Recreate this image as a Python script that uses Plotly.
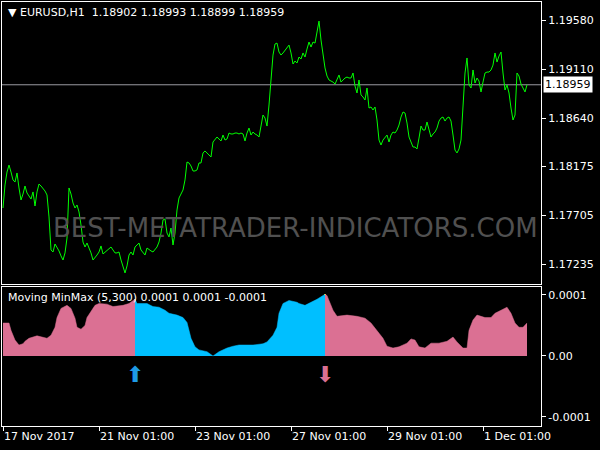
import plotly.graph_objects as go

# ---------------- data ----------------
closes = [
    1.17777, 1.17998, 1.18122, 1.18189, 1.18122, 1.18046, 1.18026, 1.18113, 1.17969, 1.17854,
    1.17911, 1.17988, 1.17921, 1.17892, 1.17863, 1.17931, 1.17796, 1.17931, 1.18007, 1.17988,
    1.17969, 1.17940, 1.17902, 1.17691, 1.17374, 1.17355, 1.17432, 1.17403, 1.17365, 1.17317,
    1.17278, 1.17346, 1.17489, 1.17969, 1.17911, 1.17825, 1.17777, 1.17806, 1.17739, 1.17614,
    1.17450, 1.17403, 1.17441, 1.17393, 1.17346, 1.17278, 1.17298, 1.17326, 1.17355, 1.17413,
    1.17336, 1.17355, 1.17374, 1.17384, 1.17403, 1.17374, 1.17346, 1.17346, 1.17355, 1.17278,
    1.17211, 1.17154, 1.17221, 1.17326, 1.17355, 1.17326, 1.17403, 1.17422, 1.17441, 1.17374,
    1.17355, 1.17326, 1.17393, 1.17374, 1.17365, 1.17355, 1.17384, 1.17403, 1.17451, 1.17537,
    1.17662, 1.17672, 1.17537, 1.17499, 1.17585, 1.17422, 1.17537, 1.17758, 1.17873, 1.17911,
    1.17950, 1.18046, 1.18218, 1.18209, 1.18180, 1.18132, 1.18132, 1.18142, 1.18209, 1.18209,
    1.18305, 1.18324, 1.18305, 1.18276, 1.18266, 1.18410, 1.18439, 1.18458, 1.18439, 1.18420,
    1.18477, 1.18429, 1.18439, 1.18496, 1.18487, 1.18487, 1.18496, 1.18496, 1.18487, 1.18496,
    1.18487, 1.18420, 1.18496, 1.18544, 1.18477, 1.18506, 1.18487, 1.18477, 1.18458, 1.18554,
    1.18669, 1.18640, 1.18563, 1.18765, 1.19005, 1.19244, 1.19350, 1.19359, 1.19273, 1.19244,
    1.19264, 1.19292, 1.19311, 1.19340, 1.19264, 1.19158, 1.19187, 1.19168, 1.19225, 1.19206,
    1.19264, 1.19225, 1.19302, 1.19369, 1.19321, 1.19369, 1.19359, 1.19484, 1.19570, 1.19388,
    1.19225, 1.19120, 1.19043, 1.19005, 1.18995, 1.18985, 1.18966, 1.19005, 1.19053, 1.18985,
    1.19005, 1.19024, 1.19033, 1.19024, 1.19024, 1.19072, 1.18947, 1.18880, 1.19005, 1.18861,
    1.18842, 1.18813, 1.18928, 1.18736, 1.18746, 1.18717, 1.18746, 1.18621, 1.18429, 1.18381,
    1.18429, 1.18448, 1.18477, 1.18410, 1.18477, 1.18506, 1.18496, 1.18525, 1.18573, 1.18650,
    1.18698, 1.18688, 1.18592, 1.18458, 1.18400, 1.18362, 1.18362, 1.18343, 1.18448, 1.18563,
    1.18525, 1.18525, 1.18602, 1.18535, 1.18458, 1.18487, 1.18506, 1.18544, 1.18611, 1.18640,
    1.18650, 1.18611, 1.18640, 1.18650, 1.18611, 1.18477, 1.18333, 1.18305, 1.18343, 1.18429,
    1.18717, 1.19072, 1.19216, 1.18957, 1.18928, 1.19101, 1.18976, 1.19024, 1.18995, 1.18890,
    1.18985, 1.19072, 1.19081, 1.19081, 1.19101, 1.19148, 1.19264, 1.19177, 1.19235, 1.19273,
    1.19072, 1.18909, 1.18957, 1.18880, 1.18736, 1.18621, 1.18669, 1.19072, 1.19043, 1.18966,
    1.18928, 1.18890, 1.18959,
]
bars = list(range(len(closes)))

# Moving MinMax histogram segments (bar index, value)
down1_idx = [0, 3, 4, 6, 8, 10, 11, 13, 17, 20, 22, 24, 26, 27, 29, 32, 34, 36, 37, 39,
             41, 42, 44, 46, 48, 52, 55, 60, 63, 65, 66]
down1_val = [0.000054, 0.000054, 0.000042, 0.000026, 0.000018, 0.000020, 0.000024, 0.000029,
             0.000033, 0.000031, 0.000029, 0.000034, 0.000047, 0.000063, 0.000078, 0.000083,
             0.000078, 0.000062, 0.000047, 0.000044, 0.000050, 0.000063, 0.000072, 0.000083,
             0.000086, 0.000085, 0.000081, 0.000083, 0.000086, 0.000091, 0.000093]

up_idx = [66, 67, 72, 75, 78, 81, 83, 87, 90, 92, 93, 94, 96, 98, 102, 105, 108, 112, 115,
          118, 125, 130, 132, 135, 137, 138, 140, 143, 147, 148, 151, 153, 157, 160, 161]
up_val = [0.000093, 0.000086, 0.000086, 0.000081, 0.000080, 0.000075, 0.000070, 0.000067,
          0.000063, 0.000055, 0.000042, 0.000029, 0.000015, 0.000010, 0.000007, 0.000000,
          0.000007, 0.000013, 0.000016, 0.000018, 0.000018, 0.000020, 0.000023, 0.000034,
          0.000047, 0.000070, 0.000086, 0.000091, 0.000088, 0.000086, 0.000083, 0.000086,
          0.000093, 0.000099, 0.000101]

down2_idx = [161, 162, 163, 165, 167, 172, 177, 181, 184, 187, 190, 192, 195, 198, 202, 204,
             206, 208, 211, 214, 218, 222, 225, 227, 230, 232, 233, 235, 237, 241, 244, 246,
             249, 252, 254, 256, 258, 260, 262]
down2_val = [0.000101, 0.000099, 0.000091, 0.000075, 0.000065, 0.000067, 0.000065, 0.000062,
             0.000054, 0.000042, 0.000029, 0.000016, 0.000013, 0.000015, 0.000021, 0.000028,
             0.000026, 0.000015, 0.000013, 0.000021, 0.000021, 0.000024, 0.000031, 0.000023,
             0.000013, 0.000013, 0.000042, 0.000059, 0.000067, 0.000063, 0.000063, 0.000070,
             0.000075, 0.000080, 0.000070, 0.000054, 0.000047, 0.000047, 0.000054]

signal_idx = [66, 161]
signal_val = [0.000093, 0.000101]
arrow_level = [-0.000034, -0.000033]
arrow_text = ["⬆", "⬇"]
arrow_color = ["#1e9be6", "#db7093"]

main_ticks = [1.19580, 1.19110, 1.18640, 1.18175, 1.17705, 1.17235]
ind_ticks = [0.0001, 0.0, -0.0001]
ind_tick_text = ["0.0001", "0.00", "-0.0001"]
time_tick_idx = [0, 48, 96, 144, 192, 240]
time_tick_text = ["17 Nov 2017", "21 Nov 01:00", "23 Nov 01:00", "27 Nov 01:00",
                  "29 Nov 01:00", "1 Dec 01:00"]

symbol_title = "▼ EURUSD,H1\u00a0\u00a01.18902 1.18993 1.18899 1.18959"
ind_title = "Moving MinMax (5,300) 0.0001 0.0001 -0.0001"
watermark = "BEST-METATRADER-INDICATORS.COM"

PINK = "#db7093"
BLUE = "#00bfff"
FONT = "DejaVu Sans"

# ---------------- figure ----------------
fig = go.Figure()

fig.add_trace(go.Scatter(x=bars, y=closes, mode="lines",
                         line=dict(color="#00ff00", width=1),
                         xaxis="x", yaxis="y", hoverinfo="skip"))

for xs, ys, col in [(down1_idx, down1_val, PINK), (up_idx, up_val, BLUE),
                    (down2_idx, down2_val, PINK)]:
    fig.add_trace(go.Scatter(x=xs, y=ys, mode="lines", fill="tozeroy",
                             fillcolor=col, line=dict(color=col, width=0.5),
                             xaxis="x2", yaxis="y2", hoverinfo="skip"))

fig.add_trace(go.Bar(x=signal_idx, y=signal_val, width=1,
                     marker=dict(color="#ffff00", line=dict(width=0)),
                     xaxis="x2", yaxis="y2", hoverinfo="skip"))

fig.add_trace(go.Scatter(x=signal_idx, y=arrow_level, mode="text", text=arrow_text,
                         textfont=dict(color=arrow_color, size=22, family=FONT),
                         xaxis="x2", yaxis="y2", hoverinfo="skip"))

xdom = [2 / 600, 541 / 600]
xrange = [-0.5, 269]
axis_common = dict(showgrid=False, zeroline=False, showline=True, mirror=True,
                   linecolor="white", linewidth=1, automargin=False)

fig.update_layout(
    width=600, height=450, autosize=False,
    margin=dict(l=0, r=0, t=0, b=0, pad=0),
    paper_bgcolor="black", plot_bgcolor="black",
    showlegend=False, bargap=0,
    xaxis=dict(domain=xdom, range=xrange, anchor="y", showticklabels=False,
               ticks="", **axis_common),
    yaxis=dict(domain=[1 - 284 / 450, 1 - 2 / 450], range=[1.17048, 1.19753],
               anchor="x", side="right", tickvals=main_ticks, tickformat=".5f",
               ticks="outside", ticklen=4, tickcolor="white",
               tickfont=dict(color="white", size=11, family=FONT), **axis_common),
    xaxis2=dict(domain=xdom, range=xrange, anchor="y2", tickvals=time_tick_idx,
                ticktext=time_tick_text, ticks="outside", ticklen=4, tickcolor="white",
                ticklabelposition="outside right",
                tickfont=dict(color="white", size=11, family=FONT), **axis_common),
    yaxis2=dict(domain=[1 - 426 / 450, 1 - 287 / 450], range=[-0.0001148, 0.0001131],
                anchor="x2", side="right", tickvals=ind_ticks, ticktext=ind_tick_text,
                ticks="outside", ticklen=4, tickcolor="white",
                tickfont=dict(color="white", size=11, family=FONT), **axis_common),
    shapes=[dict(type="line", xref="paper", yref="y", x0=xdom[0], x1=xdom[1],
                 y0=closes[-1], y1=closes[-1], line=dict(color="#9a9aa2", width=1),
                 layer="below")],
    annotations=[
        dict(text=watermark, xref="paper", yref="paper", x=295 / 600, y=1 - 228 / 450,
             xanchor="center", yanchor="middle", showarrow=False,
             font=dict(color="#505050", size=26, family=FONT)),
        dict(text=symbol_title, xref="paper", yref="paper", x=6 / 600, y=1 - 13 / 450,
             xanchor="left", yanchor="middle", showarrow=False,
             font=dict(color="white", size=11, family=FONT)),
        dict(text=ind_title, xref="paper", yref="paper", x=6 / 600, y=1 - 297 / 450,
             xanchor="left", yanchor="middle", showarrow=False,
             font=dict(color="white", size=11, family=FONT)),
        dict(text=f"{closes[-1]:.5f}", xref="paper", yref="y", x=543 / 600, y=closes[-1],
             xanchor="left", yanchor="middle", showarrow=False, bgcolor="white",
             borderpad=1, font=dict(color="black", size=11, family=FONT)),
    ],
)

fig.write_html("out.html",
               config={"displayModeBar": False, "responsive": False},
               post_script="document.body.style.margin='0';"
                           "document.body.style.overflow='hidden';"
                           "document.body.style.background='black';")
